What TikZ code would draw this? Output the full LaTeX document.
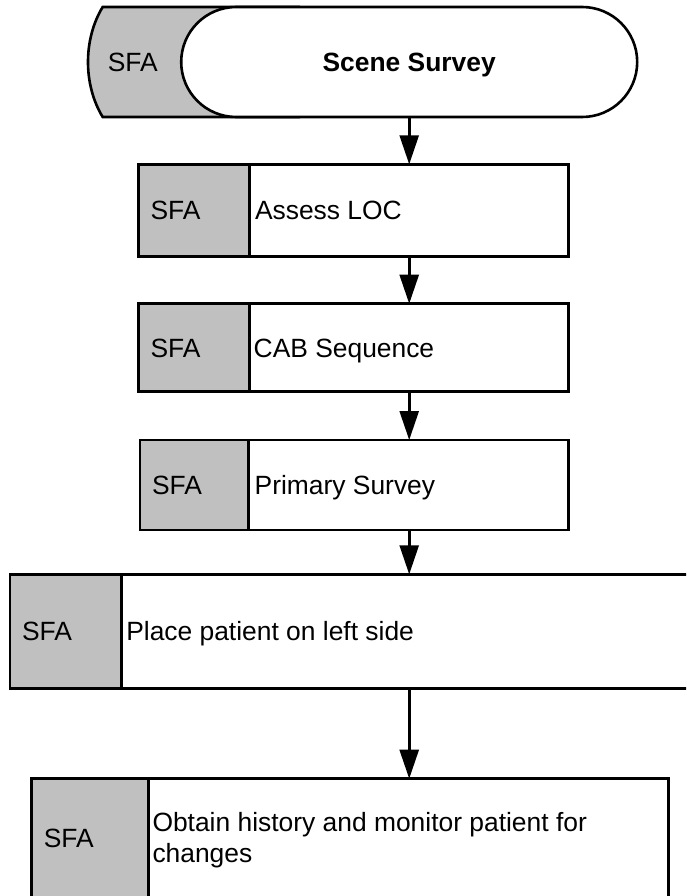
\documentclass[tikz,border=0pt]{standalone}
\usepackage{fontspec}
\setmainfont{Liberation Sans}
\usetikzlibrary{arrows.meta}
\definecolor{sfagray}{RGB}{192,192,192}
\begin{document}
\begin{tikzpicture}[x=1pt, y=-1pt,
  every node/.style={font=\fontsize{26.4}{30.5}\selectfont, inner sep=0pt, outer sep=0pt},
  stepbox/.style={draw, line width=2.6pt, fill=white, rectangle},
  tab/.style={draw, line width=2.6pt, fill=sfagray},
  lbl/.style={anchor=base west},
  flow/.style={line width=2.6pt, -{Triangle[length=29pt, width=19pt]}}
]
% page frame
\path[use as bounding box, clip] (0,0) rectangle (686,896);

% start terminal: grey tab behind a white stadium
\draw[tab] (300,7) -- (102.7,7) .. controls (83.1,39) and (83.1,85) .. (102.7,117) -- (300,117);
\node[stepbox, rounded corners=55pt, minimum width=456pt, minimum height=110pt] (survey) at (409.2,62) {};
\node[lbl] (survey-sfa) at (107.8,71.3) {SFA};
\node[anchor=base, font=\fontsize{26.4}{30.5}\selectfont\bfseries] (survey-txt) at (409.2,71.3) {Scene Survey};

% process steps
\node[stepbox, minimum width=430.4pt, minimum height=92.4pt] (assess) at (353.5,210.5) {};
\draw[tab] (assess.north west) rectangle ([xshift=111pt]assess.south west);
\node[lbl] (assess-sfa) at ([shift={(12.2,9.3)}]assess.west) {SFA};
\node[lbl] (assess-txt) at ([shift={(116.7,9.3)}]assess.west) {Assess LOC};

\node[stepbox, minimum width=430.4pt, minimum height=88pt] (cab) at (353.5,347.7) {};
\draw[tab] (cab.north west) rectangle ([xshift=111pt]cab.south west);
\node[lbl] (cab-sfa) at ([shift={(12.2,9.3)}]cab.west) {SFA};
\node[lbl] (cab-txt) at ([shift={(115.4,9.3)}]cab.west) {CAB Sequence};

\node[stepbox, minimum width=428.7pt, minimum height=90pt] (primary) at (354.35,485) {};
\draw[tab] (primary.north west) rectangle ([xshift=108.3pt]primary.south west);
\node[lbl] (primary-sfa) at ([shift={(12.1,9.3)}]primary.west) {SFA};
\node[lbl] (primary-txt) at ([shift={(114.7,9.3)}]primary.west) {Primary Survey};

\node[stepbox, minimum width=710pt, minimum height=114.2pt] (place) at (365,631.4) {};
\draw[tab] (place.north west) rectangle ([xshift=111.7pt]place.south west);
\node[lbl] (place-sfa) at ([shift={(12.1,9.3)}]place.west) {SFA};
\node[lbl] (place-txt) at ([shift={(116.3,9.3)}]place.west) {Place patient on left side};

\node[stepbox, minimum width=637pt, minimum height=119.3pt] (obtain) at (350.2,838.35) {};
\draw[tab] (obtain.north west) rectangle ([xshift=116.6pt]obtain.south west);
\node[lbl] (obtain-sfa) at ([shift={(12.1,9)}]obtain.west) {SFA};
% a multi-line node sits on the baseline of its last line
\node[lbl, align=left] (obtain-txt) at ([shift={(120.8,23.65)}]obtain.west) {Obtain history and monitor patient for\\changes};

% connectors along the centre line of the start terminal
\draw[flow] (survey.south) -- (survey.south |- assess.north);
\draw[flow] (survey.south |- assess.south) -- (survey.south |- cab.north);
\draw[flow] (survey.south |- cab.south) -- (survey.south |- primary.north);
\draw[flow] (survey.south |- primary.south) -- (survey.south |- place.north);
\draw[flow] (survey.south |- place.south) -- (survey.south |- obtain.north);
\end{tikzpicture}
\end{document}
